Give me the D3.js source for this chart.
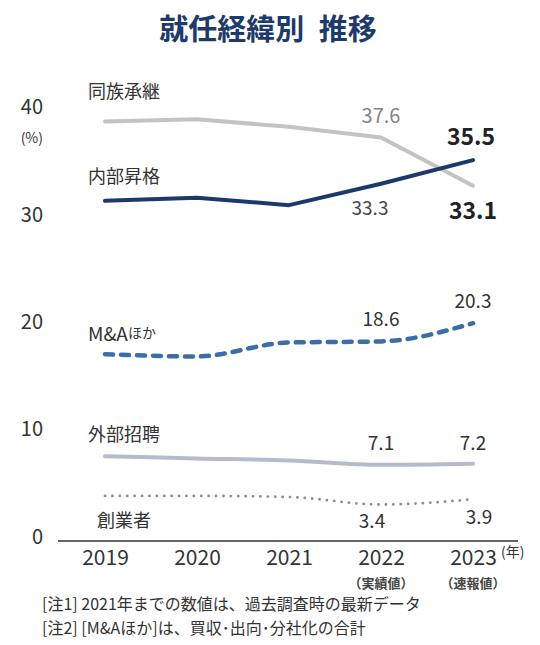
<!DOCTYPE html>
<html><head><meta charset="utf-8">
<script src="https://cdn.jsdelivr.net/npm/d3@7"></script>
<style>
html,body{margin:0;padding:0;background:#fff;}
svg{display:block;font-family:"Noto Sans CJK JP","Noto Sans",sans-serif;}
</style></head>
<body>
<svg id="c" width="540" height="645"></svg>
<script>
const years = ["2019","2020","2021","2022","2023"];
const yearNotes = ["", "", "", "（実績値）", "（速報値）"];
const doozoku = [39.1, 39.3, 38.6, 37.6, 33.1];
const naibu   = [31.7, 32.0, 31.3, 33.3, 35.5];
const ma      = [17.4, 17.2, 18.5, 18.6, 20.3];
const gaibu   = [7.9, 7.7, 7.5, 7.1, 7.2];
const sogyo   = [4.2, 4.2, 4.1, 3.4, 3.9];
const yTicks  = [0, 10, 20, 30, 40];
const titleText = "就任経緯別\u2002推移";
const notes = ["[注1] 2021年までの数値は、過去調査時の最新データ", "[注2] [M&Aほか]は、買収･出向･分社化の合計"];

const svg = d3.select("#c");
const x = d3.scalePoint().domain(years).range([105, 473]);
const y = d3.scaleLinear().domain([0, 40]).range([541, 111.8]);

// title
svg.append("text").attr("x", 268).attr("y", 27).attr("text-anchor", "middle")
  .attr("dominant-baseline", "central").attr("font-size", 29).attr("font-weight", 700)
  .attr("fill", "#1e3a6a").text(titleText);

// y tick labels
const yAxis = d3.axisLeft(y).tickValues(yTicks).tickSize(0).tickPadding(0);
const gy = svg.append("g").attr("transform", "translate(43,0)").call(yAxis);
gy.select(".domain").remove();
gy.selectAll("text").attr("font-size", 20).attr("fill", "#333")
  .attr("font-family", "'Noto Sans CJK JP','Noto Sans',sans-serif")
  .attr("dy", "0.1em");
svg.append("text").attr("x", 43).attr("y", y(40) + 25).attr("text-anchor", "end")
  .attr("dominant-baseline", "central").attr("font-size", 14).attr("fill", "#333").text("(%)");

// x axis baseline
svg.append("line").attr("x1", 58).attr("x2", 518).attr("y1", y(0)).attr("y2", y(0))
  .attr("stroke", "#333").attr("stroke-width", 1.6);

const xAxis = d3.axisBottom(x).tickSize(0).tickPadding(0);
const gx = svg.append("g").attr("transform", `translate(0,${y(0)})`).call(xAxis);
gx.select(".domain").remove();
gx.selectAll("text").attr("font-size", 21).attr("fill", "#333")
  .attr("font-family", "'Noto Sans CJK JP','Noto Sans',sans-serif")
  .attr("y", 0).attr("dy", 0).attr("dominant-baseline", "central")
  .attr("transform", "translate(0,15)");
years.forEach((yr, i) => {
  if (yearNotes[i]) {
    svg.append("text").attr("x", x(yr)).attr("y", y(0) + 41).attr("text-anchor", "middle")
      .attr("dominant-baseline", "central").attr("font-size", 13).attr("font-weight", 700)
      .attr("fill", "#444").text(yearNotes[i]);
  }
});
svg.append("text").attr("x", x("2023") + 28).attr("y", y(0) + 10).attr("text-anchor", "start")
  .attr("dominant-baseline", "central").attr("font-size", 14).attr("fill", "#333").text("(年)");

// lines
function draw(vals, color, width, dash, curve, cap) {
  const line = d3.line().x((d, i) => x(years[i])).y(d => y(d)).curve(curve);
  svg.append("path").datum(vals).attr("d", line).attr("fill", "none")
    .attr("stroke", color).attr("stroke-width", width)
    .attr("stroke-linejoin", "round").attr("stroke-linecap", cap || "round")
    .attr("stroke-dasharray", dash || null);
}
draw(doozoku, "#c3c3c3", 4, null, d3.curveLinear);
draw(gaibu, "#b5bbca", 4, null, d3.curveMonotoneX);
draw(sogyo, "#8f8f8f", 2.8, "0.1,7.3", d3.curveMonotoneX, "round");
draw(ma, "#3a6ea5", 4.5, "8,8", d3.curveMonotoneX, "round");
draw(naibu, "#1b3a6b", 4, null, d3.curveLinear);

// series labels
function label(txt, lx, ly) {
  svg.append("text").attr("x", lx).attr("y", ly).attr("dominant-baseline", "central")
    .attr("font-size", 18).attr("fill", "#333").text(txt);
}
label("同族承継", 88, 90);
label("内部昇格", 88, 175);
const maL = svg.append("text").attr("x", 88).attr("y", 332).attr("dominant-baseline", "central")
  .attr("font-size", 19).attr("fill", "#333");
maL.append("tspan").text("M&A");
maL.append("tspan").attr("font-size", 14).text("ほか");
label("外部招聘", 88, 433);
label("創業者", 97, 518.5);

// value labels
function val(series, idx, dx, dy, opts) {
  const o = opts || {};
  svg.append("text").attr("x", x(years[idx]) + dx).attr("y", y(series[idx]) + dy)
    .attr("text-anchor", "middle").attr("dominant-baseline", "central")
    .attr("font-size", o.size || 19).attr("font-weight", o.bold ? 700 : 400)
    .attr("fill", o.color || "#333").text(d3.format(".1f")(series[idx]));
}
val(doozoku, 3, 0, -23, {color: "#858585", size: 20});
val(doozoku, 4, 0, 23, {bold: true, size: 23, color: "#222"});
val(naibu, 3, -11, 23, {color: "#444"});
val(naibu, 4, -2, -25, {bold: true, size: 23, color: "#222"});
val(ma, 3, 0, -24);
val(ma, 4, 0, -24);
val(gaibu, 3, 0, -23);
val(gaibu, 4, 0, -22);
val(sogyo, 3, -9, 15);
val(sogyo, 4, 6, 16);

// notes
notes.forEach((n, i) => {
  svg.append("text").attr("x", 42).attr("y", 603 + i * 24).attr("dominant-baseline", "central")
    .attr("font-size", 16).attr("fill", "#333").text(n);
});
</script>
</body></html>
